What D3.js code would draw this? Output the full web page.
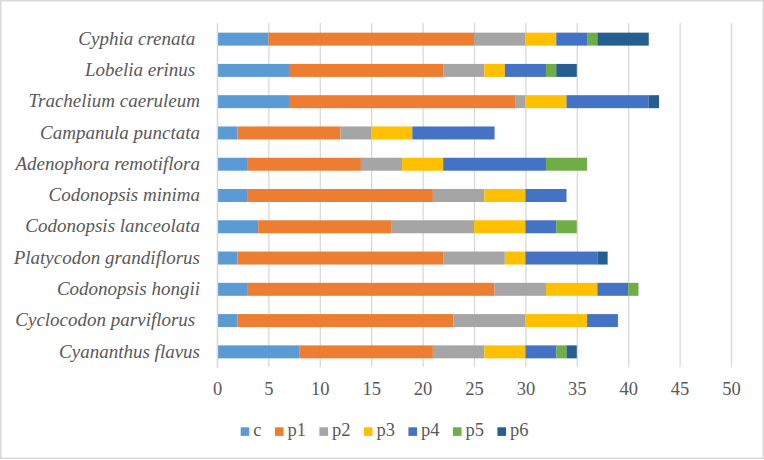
<!DOCTYPE html>
<html>
<head>
<meta charset="utf-8">
<script src="https://cdn.jsdelivr.net/npm/d3@7"></script>
<style>
  html, body { margin: 0; padding: 0; background: #fff; }
  svg { display: block; }
  svg text { font-family: 'Times New Roman', 'Tinos', serif; fill: #595959; }
</style>
</head>
<body>
<script>
// ---- data ----
const categories = [
  "Cyphia crenata ", "Lobelia erinus ", "Trachelium caeruleum", "Campanula punctata",
  "Adenophora remotiflora", "Codonopsis minima", "Codonopsis lanceolata",
  "Platycodon grandiflorus", "Codonopsis hongii", "Cyclocodon parviflorus ", "Cyananthus flavus"
];
const seriesNames = ["c", "p1", "p2", "p3", "p4", "p5", "p6"];
const c  = [5, 7, 7, 2, 3, 3, 4, 2, 3, 2, 8];
const p1 = [20, 15, 22, 10, 11, 18, 13, 20, 24, 21, 13];
const p2 = [5, 4, 1, 3, 4, 5, 8, 6, 5, 7, 5];
const p3 = [3, 2, 4, 4, 4, 4, 5, 2, 5, 6, 4];
const p4 = [3, 4, 8, 8, 10, 4, 3, 7, 3, 3, 3];
const p5 = [1, 1, 0, 0, 4, 0, 2, 0, 1, 0, 1];
const p6 = [5, 2, 1, 0, 0, 0, 0, 1, 0, 0, 1];
const xTicks = [0, 5, 10, 15, 20, 25, 30, 35, 40, 45, 50];
const colors = ["#5B9BD5", "#ED7D31", "#A5A5A5", "#FFC000", "#4472C4", "#70AD47", "#255E91"];

const seriesValues = [c, p1, p2, p3, p4, p5, p6];
const rows = categories.map((cat, i) => {
  const r = { cat };
  seriesNames.forEach((s, j) => r[s] = seriesValues[j][i]);
  return r;
});

const FONT = "'Times New Roman', 'Tinos', serif";

// ---- layout ----
const W = 764, H = 460;
const svg = d3.select("body").append("svg").attr("width", W).attr("height", H)
  .style("font-family", FONT);

// outer border
svg.append("rect").attr("x", 0.75).attr("y", 0.75).attr("width", W - 1.5).attr("height", H - 2.5)
  .attr("fill", "#fff").attr("stroke", "#d9d9d9").attr("stroke-width", 1.5);

const x = d3.scaleLinear().domain([0, 50]).range([217, 731]);
const y = d3.scaleBand().domain(categories).range([23.5, 367.5]).paddingInner(0.585).paddingOuter(0.2925);

// gridlines + x tick labels
const xAxis = d3.axisBottom(x).tickValues(xTicks).tickSize(-(367 - 23));
const gx = svg.append("g").attr("transform", "translate(0,367)").call(xAxis);
gx.attr("font-family", FONT).attr("font-size", null);
gx.select(".domain").remove();
gx.selectAll(".tick line").attr("stroke", "#d9d9d9").attr("stroke-width", 1.3);
gx.selectAll(".tick text").attr("font-family", FONT).style("font-family", FONT)
  .attr("font-size", 18.5).attr("fill", "#595959")
  .attr("dy", null).attr("y", 28);

// stacked bars
const stacked = d3.stack().keys(seriesNames)(rows);
svg.append("g").selectAll("g").data(stacked).join("g")
  .attr("fill", (d, i) => colors[i])
  .selectAll("rect").data(d => d.map((v, i) => ({ v, cat: categories[i] })))
  .join("rect")
  .attr("x", d => x(d.v[0]))
  .attr("width", d => Math.max(0, x(d.v[1]) - x(d.v[0])))
  .attr("y", d => y(d.cat))
  .attr("height", y.bandwidth());

// y axis
const yAxis = d3.axisLeft(y).tickSize(0).tickPadding(17);
const gy = svg.append("g").attr("transform", "translate(217,0)").call(yAxis);
gy.attr("font-family", FONT).attr("font-size", null);
gy.select(".domain").attr("stroke", "#d9d9d9").attr("stroke-width", 1.3);
gy.selectAll(".tick text").attr("font-family", FONT).style("font-family", FONT)
  .attr("font-size", 19).attr("font-style", "italic")
  .attr("fill", "#595959").attr("dy", "0.3em")
  .style("white-space", "pre");

// legend
const legend = svg.append("g").attr("transform", "translate(240.7,0)");
let lx = 0;
seriesNames.forEach((s, i) => {
  const g = legend.append("g").attr("transform", `translate(${lx},0)`);
  g.append("rect").attr("x", 0).attr("y", 427.3).attr("width", 8.6).attr("height", 8.6).attr("fill", colors[i]);
  const t = g.append("text").attr("x", 12.6).attr("y", 435.7)
    .attr("font-family", FONT).style("font-family", FONT).attr("font-size", 18.5).text(s);
  lx += 12.6 + t.node().getComputedTextLength() + 13.4;
});
</script>
</body>
</html>
